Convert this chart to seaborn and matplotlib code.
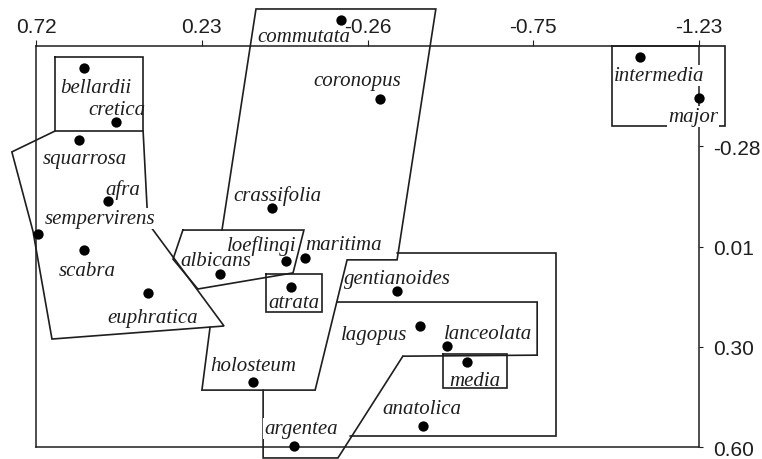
import numpy as np
import pandas as pd
import matplotlib
matplotlib.use("Agg")
import matplotlib.pyplot as plt
import seaborn as sns

# species scores on the two ordination axes
species = ["bellardii", "cretica", "squarrosa", "afra", "sempervirens", "scabra",
           "euphratica", "crassifolia", "albicans", "loeflingi", "maritima", "atrata",
           "holosteum", "argentea", "commutata", "coronopus", "intermedia", "major",
           "gentianoides", "lagopus", "lanceolata", "media", "anatolica"]
axis1 = [0.579, 0.485, 0.594, 0.508, 0.714, 0.579, 0.391, 0.026, 0.179, -0.015,
         -0.071, -0.030, 0.082, -0.039, -0.177, -0.292, -1.056, -1.230, -0.342,
         -0.409, -0.489, -0.548, -0.418]
axis2 = [-0.506, -0.348, -0.296, -0.118, -0.021, 0.025, 0.151, -0.097, 0.095, 0.057,
         0.049, 0.133, 0.410, 0.597, -0.646, -0.415, -0.538, -0.418, 0.145, 0.247,
         0.305, 0.352, 0.539]

# label offsets from each point (pixels, right / up)
label_dx = [12, 1, 6, 15, 62, 3, 5, 5, -4, -24, 39, 3, 0, 7, -37, -23, 19, -6, 0, -46, 41, 8, -1]
label_dy = [-17, 15, -16, 14, 18, -18, -22, 16, 16, 18, 16, -13, 19, 20, -14, 21, -16, -16, 15, -6, 15, -16, 20]
# labels printed on a white patch (they break the lines under them)
masked_labels = ["sempervirens", "intermedia", "major", "argentea"]

# tick labels
x_ticklabels = ["0.72", "0.23", "-0.26", "-0.75", "-1.23"]
y_ticklabels = ["0.60", "0.30", "0.01", "-0.28"]

# group outlines (data coordinates)
bellardii_x = [0.664, 0.405, 0.405, 0.664, 0.664]
bellardii_y = [-0.538, -0.538, -0.322, -0.322, -0.538]
squarrosa_x = [0.664, 0.791, 0.729, 0.673, 0.167, 0.391, 0.405]
squarrosa_y = [-0.322, -0.261, -0.030, 0.285, 0.247, -0.054, -0.322]
albicans_x = [0.288, -0.068, -0.036, 0.244, 0.317, 0.288]
albicans_y = [-0.033, -0.033, 0.092, 0.139, 0.052, -0.033]
atrata_x = [0.044, -0.121, -0.121, 0.044, 0.044]
atrata_y = [0.095, 0.095, 0.206, 0.206, 0.095]
commutata_x = [0.173, 0.073, -0.456, -0.342, -0.195, -0.101, 0.232, 0.208]
commutata_y = [-0.033, -0.678, -0.678, 0.054, 0.054, 0.434, 0.434, 0.250]
gentianoides_x = [-0.342, -0.809, -0.809, -0.204]
gentianoides_y = [0.034, 0.034, 0.568, 0.568]
lagopus_x = [-0.165, -0.754, -0.754, -0.359]
lagopus_y = [0.177, 0.177, 0.332, 0.335]
argentea_x = [0.052, 0.052, -0.168, -0.359]
argentea_y = [0.434, 0.632, 0.632, 0.335]
media_x = [-0.477, -0.665, -0.665, -0.477, -0.477]
media_y = [0.329, 0.329, 0.428, 0.428, 0.329]
intermedia_x = [-0.974, -1.306, -1.306, -0.974, -0.974]
intermedia_y = [-0.570, -0.570, -0.337, -0.337, -0.570]

outlines = [(bellardii_x, bellardii_y), (squarrosa_x, squarrosa_y),
            (albicans_x, albicans_y), (atrata_x, atrata_y),
            (commutata_x, commutata_y), (gentianoides_x, gentianoides_y),
            (lagopus_x, lagopus_y), (argentea_x, argentea_y),
            (media_x, media_y), (intermedia_x, intermedia_y)]

df = pd.DataFrame({"species": species, "axis1": axis1, "axis2": axis2})

sns.set_theme(style="white")
plt.rcParams["font.family"] = ["Liberation Sans", "DejaVu Sans"]

ink = "#1e1e1e"
fig = plt.figure(figsize=(7.62, 4.6), dpi=100)
ax = fig.add_axes([36 / 762, 1 - 448 / 460, 663 / 762, 401 / 460])

for ox, oy in outlines:
    ax.plot(ox, oy, color=ink, lw=1.2, clip_on=False, zorder=3,
            solid_joinstyle="miter")

sns.scatterplot(data=df, x="axis1", y="axis2", ax=ax, color="black", s=55,
                linewidth=0, zorder=6, clip_on=False, legend=False)

for name, x, y, dx, dy in zip(species, axis1, axis2, label_dx, label_dy):
    box = None
    if name in masked_labels:
        box = dict(boxstyle="square,pad=0.05", fc="white", ec="none")
    ax.annotate(name, (x, y), xytext=(dx, dy), textcoords="offset pixels",
                ha="center", va="center_baseline", fontsize=15, style="italic",
                family=["Liberation Serif", "DejaVu Serif"], color=ink,
                annotation_clip=False, zorder=5, bbox=box)

ax.set_xlim(0.72, -1.23)
ax.set_ylim(0.60, -0.57)
ax.set_xticks(np.linspace(0.72, -1.23, 5))
ax.set_xticklabels(x_ticklabels)
ax.set_yticks(np.linspace(0.60, -0.57, 5)[:4])
ax.set_yticklabels(y_ticklabels)
ax.xaxis.tick_top()
ax.yaxis.tick_right()
ax.xaxis.set_zorder(7)
ax.tick_params(axis="x", direction="out", length=4, width=0.8, pad=3.5,
               labelsize=15, colors=ink)
ax.tick_params(axis="y", direction="out", length=3, width=0.8, pad=7,
               labelsize=15, colors=ink)
ax.set_xlabel("")
ax.set_ylabel("")
for sp in ax.spines.values():
    sp.set_color(ink)
    sp.set_linewidth(1.1)
    sp.set_zorder(2.5)

fig.savefig("out.png", dpi=100)
plt.close(fig)
